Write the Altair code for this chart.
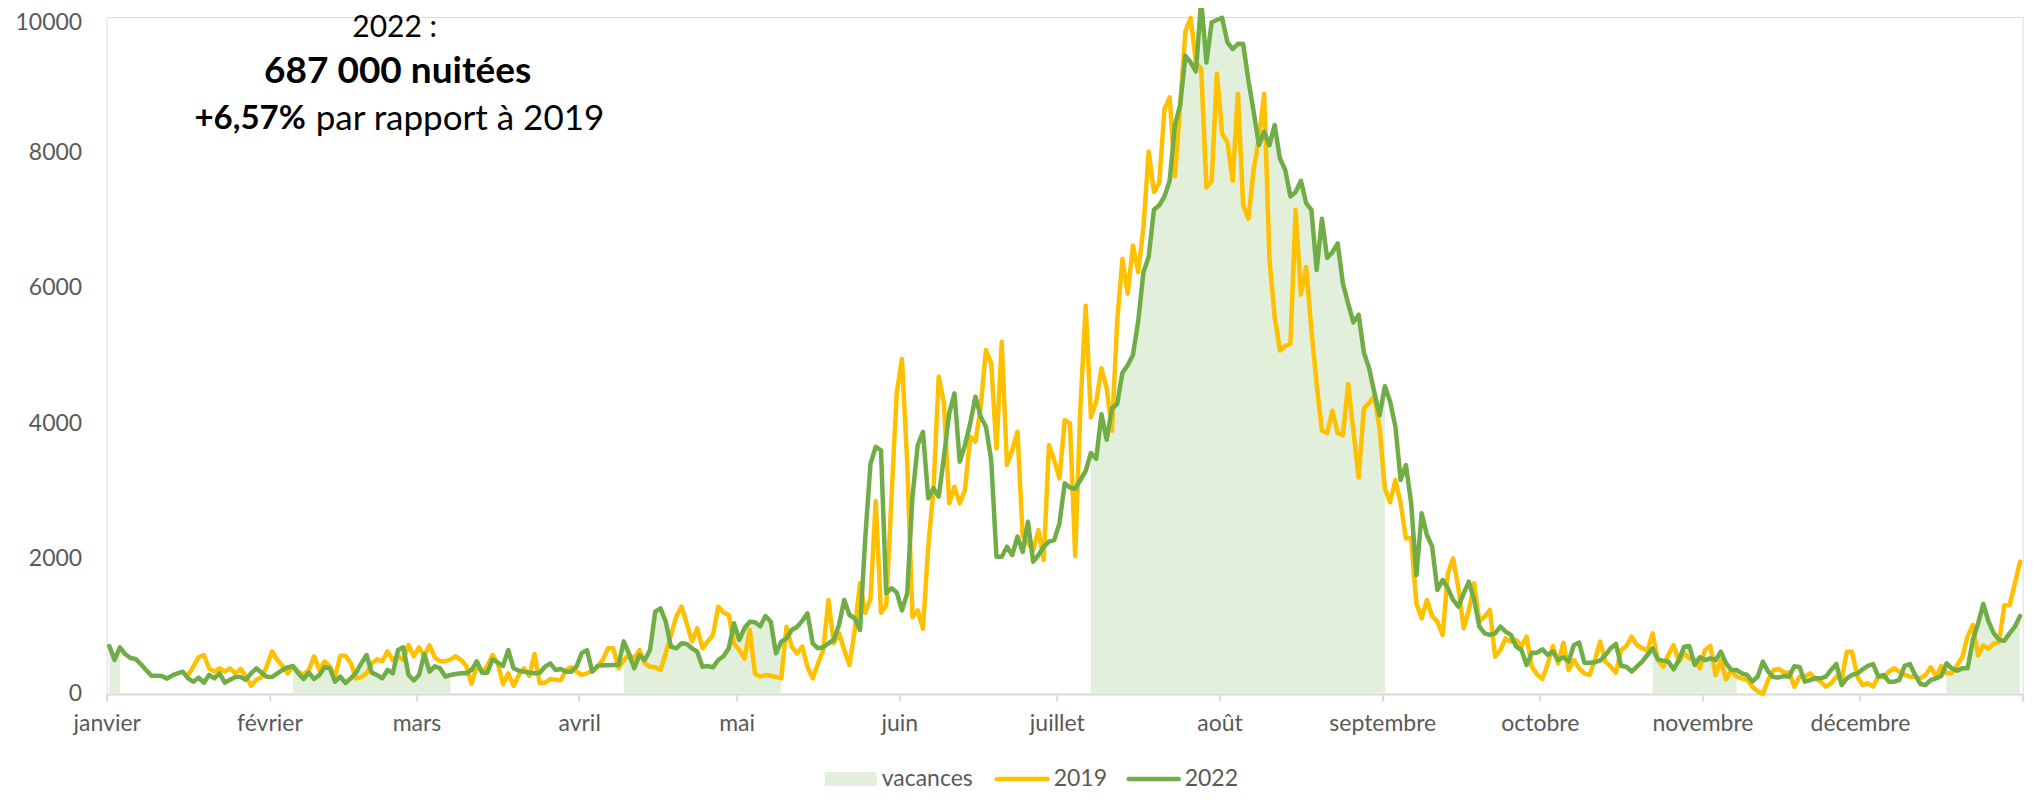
import altair as alt
import pandas as pd

# ---- categories / axis ----
months = ["janvier", "février", "mars", "avril", "mai", "juin", "juillet",
          "août", "septembre", "octobre", "novembre", "décembre"]
month_start = [0, 31, 59, 90, 120, 151, 181, 212, 243, 273, 304, 334]
year_end = 365
y_ticks = [0, 2000, 4000, 6000, 8000, 10000]

# vacation periods (first day index, last day index), 2022
vacances = [(0, 2), (35, 65), (98, 128), (187, 243), (294, 310), (350, 364)]

# ---- 2022 daily values, by month ----
s2022_jan = [709, 502, 690, 591, 532, 517, 443, 355, 271, 271, 266, 227, 276, 305, 330, 231,
             182, 241, 167, 281, 231, 305, 167, 212, 251, 251, 212, 305, 380, 315, 256]
s2022_feb = [251, 305, 355, 394, 414, 305, 221, 315, 221, 281, 394, 380, 182, 256, 162, 231,
             315, 453, 576, 315, 281, 231, 355, 305, 650, 690, 281, 202]
s2022_mar = [281, 591, 330, 410, 380, 256, 281, 295, 305, 305, 355, 483, 315, 315, 512, 463,
             414, 650, 380, 345, 330, 315, 305, 315, 404, 453, 355, 370, 330, 330, 404]
s2022_apr = [606, 645, 330, 414, 424, 424, 429, 429, 778, 596, 380, 576, 502, 650, 1216, 1265,
             1069, 699, 675, 749, 739, 675, 625, 404, 414, 394, 502, 557, 675, 1044]
s2022_may = [798, 971, 1068, 1060, 1000, 1152, 1068, 600, 772, 822, 945, 990, 1080, 1192, 749,
             675, 690, 750, 798, 1019, 1389, 1167, 1118, 945, 2300, 3400, 3650, 3600, 1490,
             1564, 1500]
s2022_jun = [1235, 1490, 2915, 3677, 3874, 2890, 3038, 2915, 3505, 4145, 4440, 3431, 3677, 3997,
             4391, 4095, 3948, 3456, 2028, 2028, 2176, 2053, 2324, 2100, 2545, 1954, 2053, 2176,
             2250, 2275]
s2022_jul = [2521, 3112, 3050, 3031, 3163, 3294, 3560, 3473, 4132, 3756, 4217, 4284, 4746, 4857,
             5009, 5504, 6229, 6460, 7152, 7219, 7350, 7581, 8405, 8702, 9427, 9328, 9197, 10250,
             9328, 9922, 9955]
s2022_aug = [9987, 9625, 9526, 9605, 9600, 9064, 8603, 8108, 8306, 8108, 8405, 7910, 7746, 7350,
             7415, 7581, 7251, 7152, 6263, 7020, 6440, 6526, 6657, 6064, 5767, 5490, 5603, 5042,
             4811, 4449, 4118]
s2022_sep = [4548, 4316, 3949, 3161, 3383, 2817, 1758, 2669, 2349, 2176, 1536, 1684, 1561, 1389,
             1290, 1487, 1659, 1389, 994, 896, 872, 896, 994, 921, 872, 699, 650, 428, 610, 610]
s2022_oct = [660, 576, 625, 502, 542, 478, 724, 758, 463, 463, 470, 493, 576, 675, 739, 414, 404,
             330, 404, 478, 576, 675, 512, 493, 478, 364, 502, 699, 709, 429, 542]
s2022_nov = [502, 527, 502, 625, 453, 355, 355, 305, 281, 182, 256, 478, 330, 250, 245, 265, 255,
             409, 399, 182, 207, 231, 231, 256, 355, 443, 133, 231, 281, 305]
s2022_dec = [364, 414, 443, 256, 281, 182, 182, 207, 414, 443, 281, 148, 133, 207, 231, 266, 453,
             379, 345, 379, 379, 798, 1044, 1330, 1068, 896, 798, 788, 896, 995, 1152]

# ---- 2019 daily values, by month (first days hidden under 2022 line) ----
s2019_jan = [None] * 15 + [281, 404, 542, 576, 380, 330, 380, 330, 380, 305, 370, 266, 123, 212,
                           251, 414]
s2019_feb = [630, 502, 414, 305, 404, 330, 281, 355, 557, 355, 483, 404, 256, 566, 566, 453, 231,
             251, 305, 453, 512, 483, 630, 502, 557, 502, 724, 557]
s2019_mar = [690, 560, 720, 540, 483, 483, 512, 557, 502, 414, 148, 414, 330, 414, 576, 453, 148,
             305, 118, 281, 380, 266, 591, 162, 167, 221, 212, 202, 355, 394, 330]
s2019_apr = [281, 305, 345, 404, 502, 675, 675, 380, 502, 576, 527, 650, 453, 404, 394, 355, 606,
             872, 1143, 1290, 1044, 778, 970, 675, 778, 872, 1290, 1202, 1167, 749]
s2019_may = [650, 524, 950, 300, 256, 280, 270, 250, 231, 995, 699, 600, 700, 400, 231, 450, 650,
             1389, 749, 897, 650, 428, 945, 1635, 1200, 1400, 2850, 1200, 1300, 2900, 4450]
s2019_jun = [4950, 3407, 1136, 1235, 965, 2176, 3013, 4686, 4292, 2816, 3062, 2816, 3013, 3800,
             3726, 4243, 5081, 4884, 3628, 5204, 3382, 3604, 3874, 2324, 2225, 2127, 2422, 1979,
             3677, 3456]
s2019_jul = [3185, 4046, 3997, 2041, 4251, 5734, 4086, 4316, 4811, 4514, 3888, 5504, 6427, 5913,
             6625, 6229, 6888, 8009, 7415, 7548, 8636, 8814, 7647, 8700, 9790, 9987, 9328, 9229,
             7482, 7581, 9163]
s2019_aug = [8273, 8150, 7581, 8867, 7219, 7020, 7746, 8207, 8867, 6427, 5570, 5075, 5141, 5174,
             7152, 5899, 6308, 5372, 4580, 3888, 3855, 4185, 3855, 3822, 4580, 3888, 3196, 4217,
             4300, 4400, 3921]
s2019_sep = [3031, 2833, 3161, 2817, 2299, 2300, 1339, 1118, 1389, 1152, 1068, 872, 1782, 2004,
             1561, 970, 1241, 1635, 1068, 1142, 1241, 551, 650, 823, 773, 798, 700, 847, 400, 290]
s2019_oct = [220, 440, 709, 453, 758, 355, 502, 379, 305, 281, 502, 773, 478, 404, 315, 650, 709,
             847, 724, 675, 640, 896, 502, 404, 576, 724, 478, 601, 527, 502, 379]
s2019_nov = [650, 709, 281, 502, 216, 355, 256, 231, 207, 108, 40, 0, 207, 350, 370, 318, 318, 108,
             256, 256, 305, 231, 182, 108, 158, 256, 207, 625, 625, 256]
s2019_dec = [133, 158, 108, 256, 246, 330, 379, 330, 281, 256, 256, 231, 281, 394, 256, 414, 305,
             305, 424, 547, 847, 1019, 571, 719, 670, 743, 768, 1310, 1310, 1630, 1955]

v2022 = (s2022_jan + s2022_feb + s2022_mar + s2022_apr + s2022_may + s2022_jun + s2022_jul +
         s2022_aug + s2022_sep + s2022_oct + s2022_nov + s2022_dec)
v2019 = (s2019_jan + s2019_feb + s2019_mar + s2019_apr + s2019_may + s2019_jun + s2019_jul +
         s2019_aug + s2019_sep + s2019_oct + s2019_nov + s2019_dec)

days = list(range(len(v2022)))
df19 = pd.DataFrame({"x": [d + 0.5 for d in days], "v": v2019}).dropna()
df22 = pd.DataFrame({"x": [d + 0.5 for d in days], "v": v2022})

YELLOW = "#FFC000"
GREEN = "#70AD47"
VAC = "#E2EFDA"
GREY = "#595959"
FONT = "Lato"

label_expr = " : ".join(
    f"datum.value == {s} ? '{m}'" for s, m in zip(month_start, months)
) + " : ''"

x_enc = alt.X(
    "x:Q",
    scale=alt.Scale(domain=[0, year_end], nice=False, zero=False),
    axis=alt.Axis(
        values=month_start + [year_end], labelExpr=label_expr, title=None, grid=False,
        domainColor="#D9D9D9", domainWidth=2, tickColor="#D9D9D9", tickWidth=2, tickSize=7,
        labelPadding=12, labelFont=FONT, labelFontSize=23, labelColor=GREY,
        labelOverlap=False, labelFlush=False,
    ),
)
y_enc = alt.Y(
    "v:Q",
    stack=None,
    scale=alt.Scale(domain=[0, 10000], nice=False),
    axis=alt.Axis(
        values=y_ticks, format="d", title=None, grid=False, domain=False, ticks=False,
        labelPadding=25, labelFont=FONT, labelFontSize=23, labelColor=GREY,
        labelOffset={"condition": {"test": "datum.value == 10000", "value": 5}, "value": 0},
    ),
)

# one area layer per vacation period, following the 2022 line
areas = []
for a, b in vacances:
    dseg = pd.DataFrame({"x": [d + 0.5 for d in range(a, b + 1)],
                         "v": v2022[a:b + 1]})
    areas.append(
        alt.Chart(dseg).mark_area(color=VAC, opacity=1).encode(x=x_enc, y=y_enc)
    )

line19 = alt.Chart(df19).mark_line(
    color=YELLOW, strokeWidth=4.5, strokeJoin="round", strokeCap="round", clip=False
).encode(x=x_enc, y=y_enc)
line22 = alt.Chart(df22).mark_line(
    color=GREEN, strokeWidth=4.5, strokeJoin="round", strokeCap="round", clip=False
).encode(x=x_enc, y=y_enc)


def txt(s, x, y, bold=False, align="center", size=34, color="black"):
    return alt.Chart(pd.DataFrame({"t": [s]})).mark_text(
        font=FONT, fontSize=size, fontWeight="bold" if bold else "normal",
        align=align, baseline="middle", color=color,
    ).encode(text="t:N", x=alt.value(x), y=alt.value(y))


title1 = txt("2022 :", 288, 11, size=30)
title2 = txt("687 000 nuitées", 291, 55, bold=True, size=37)
title3a = txt("+6,57%", 199, 102, bold=True, align="right", size=33)
title3b = txt("par rapport à 2019", 209, 102, align="left", size=35)

one = pd.DataFrame({"k": [0]})
leg_rect = alt.Chart(one).mark_rect(color=VAC).encode(
    x=alt.value(718), x2=alt.value(770), y=alt.value(755), y2=alt.value(769)
)
leg_19 = alt.Chart(one).mark_rule(color=YELLOW, strokeWidth=4.5, strokeCap="round").encode(
    x=alt.value(890), x2=alt.value(941), y=alt.value(762)
)
leg_22 = alt.Chart(one).mark_rule(color=GREEN, strokeWidth=4.5, strokeCap="round").encode(
    x=alt.value(1022), x2=alt.value(1072), y=alt.value(762)
)
leg_t1 = txt("vacances", 775, 762, align="left", size=23, color=GREY)
leg_t2 = txt("2019", 947, 762, align="left", size=23, color=GREY)
leg_t3 = txt("2022", 1078, 762, align="left", size=23, color=GREY)

chart = alt.layer(
    *areas, line19, line22, title1, title2, title3a, title3b,
    leg_rect, leg_19, leg_22, leg_t1, leg_t2, leg_t3,
).properties(
    width=1916, height=677,
    autosize=alt.AutoSizeParams(type="none"),
    padding={"left": 98.7, "top": 9, "right": 4, "bottom": 100},
).configure_view(stroke=None).configure(background="white")

chart.save("out.html", embed_options={"renderer": "svg", "actions": False})
